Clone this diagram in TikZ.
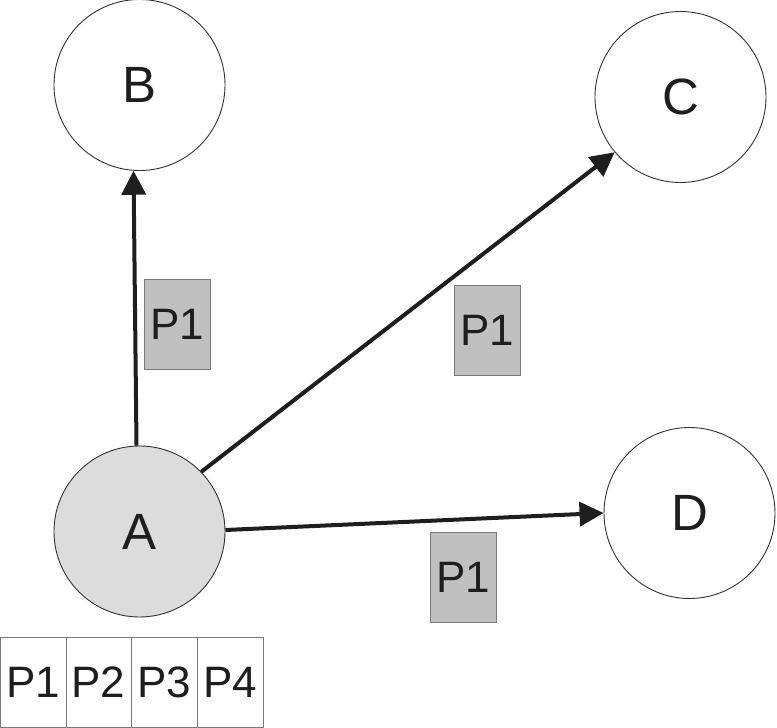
\documentclass[tikz,border=0pt]{standalone}
\usepackage{fontspec}
\setmainfont{Liberation Sans}
\usetikzlibrary{arrows.meta}
\definecolor{nodeline}{HTML}{333333}
\definecolor{afill}{HTML}{DCDCDC}
\definecolor{pfill}{HTML}{C0C0C0}
\definecolor{pline}{HTML}{7A7A7A}
\definecolor{txt}{HTML}{1E1E1E}
\tikzset{
  vertex/.style={circle, draw=nodeline, line width=0.9pt, minimum size=171pt, inner sep=0pt, text=txt, font=\fontsize{51}{51}\selectfont},
  pbox/.style={rectangle, draw=pline, fill=pfill, line width=1pt, minimum width=66pt, minimum height=90pt, inner sep=0pt, text=txt, font=\fontsize{44}{44}\selectfont},
  cell/.style={rectangle, draw=pline, line width=0.9pt, minimum width=66pt, minimum height=90pt, inner sep=0pt, text=txt, font=\fontsize{44}{44}\selectfont},
  link/.style={line width=4pt, draw=txt, -{Triangle[length=24pt,width=24pt]}}
}
\begin{document}
\begin{tikzpicture}[x=1pt,y=-1pt]
\useasboundingbox (0,0) rectangle (777,728);
\node[vertex] (B) at (139.5,85) {B};
\node[vertex] (C) at (680.5,97) {C};
\node[vertex, fill=afill] (A) at (139.5,531.5) {A};
\node[vertex] (D) at (689.5,513) {D};
\node[pbox] (pb) at (177,324) {P1};
\node[pbox] (pc) at (487,330) {P1};
\node[pbox] (pd) at (463,577) {P1};
\node[cell, minimum width=66pt] (t1) at (33,682) {P1};
\node[cell, minimum width=65pt] (t2) at (98.5,682) {P2};
\node[cell, minimum width=66pt] (t3) at (164,682) {P3};
\node[cell, minimum width=66pt] (t4) at (230,682) {P4};
\draw[link] (A.92) -- (B.266);
\draw[link] (A.44) -- (C.220);
\draw[link] (A.1) -- (D.180);
\end{tikzpicture}
\end{document}
